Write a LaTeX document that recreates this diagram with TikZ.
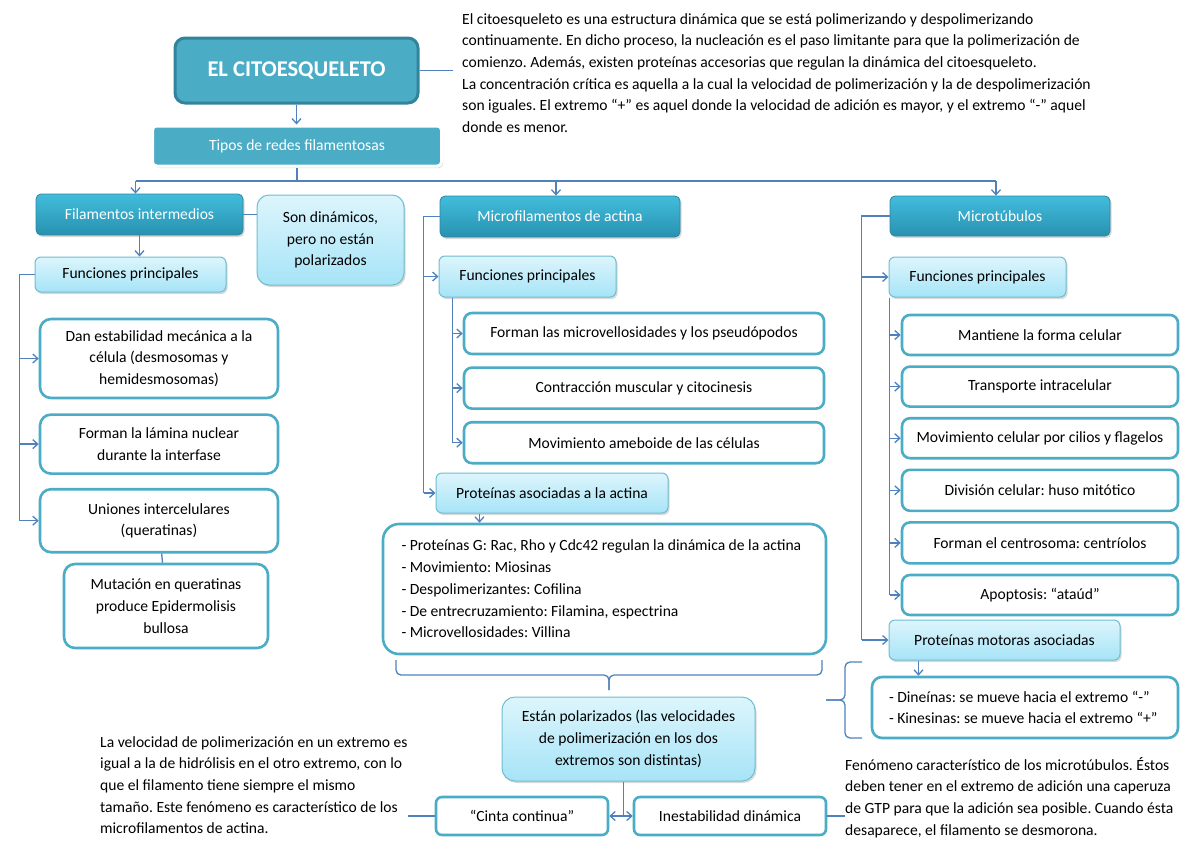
\documentclass[tikz,border=0pt]{standalone}
\usepackage{fontspec}
\setmainfont{Carlito}
\frenchspacing
\usetikzlibrary{positioning, arrows.meta, shadows}
\definecolor{azul}{HTML}{4F81BD}
\definecolor{turq}{HTML}{4BACC6}
\definecolor{turqosc}{HTML}{31849B}
\definecolor{oscarriba}{HTML}{42BCDC}
\definecolor{oscabajo}{HTML}{2892B0}
\definecolor{celeste}{HTML}{DDF5FC}
\definecolor{celeste2}{HTML}{A6E4F7}

\begin{document}
\begin{tikzpicture}[x=1pt, y=-1pt, >={Straight Barb[length=5pt,width=9pt]},
    every node/.style={font=\fontsize{15.6}{21.7}\selectfont, inner sep=0pt, align=center},
    sombra/.style={drop shadow={opacity=0.3, shadow xshift=1.5pt, shadow yshift=-2pt}},
    titulo/.style={rounded corners=10pt, fill=turq, draw=turqosc, line width=3pt, text=white,
      font=\bfseries\fontsize{22.5}{26}\selectfont},
    oscuro/.style={sombra, rounded corners=5pt, top color=oscarriba, bottom color=oscabajo,
      draw=turqosc, line width=0.8pt, text=white},
    claro/.style={sombra, rounded corners=6pt, top color=celeste, bottom color=celeste2,
      draw=turq!80, line width=1pt},
    caja/.style={rounded corners=8pt, fill=white, draw=turq, line width=2.6pt},
    lista/.style={caja, align=flush left},
    linea/.style={draw=azul, line width=1.3pt},
    flecha/.style={linea, ->},
    llave/.style={linea, rounded corners=5pt}]
  \useasboundingbox (0,0) rectangle (1200,849);

  % cabecera
  \node[titulo, minimum width=243pt, minimum height=65pt] (citoesq) at (296.5,70.5) {EL CITOESQUELETO};
  \node[sombra, rounded corners=4pt, fill=turq, draw=white, line width=3pt, text=white,
    minimum width=289pt, minimum height=40pt] (tipos) at (297,146) {Tipos de redes filamentosas};
  \node[anchor=north west, align=left] (nota) at (462,13) {El citoesqueleto es una estructura dinámica que se está polimerizando y despolimerizando\\
    continuamente. En dicho proceso, la nucleación es el paso limitante para que la polimerización de\\
    comienzo. Además, existen proteínas accesorias que regulan la dinámica del citoesqueleto.\\
    La concentración crítica es aquella a la cual la velocidad de polimerización y la de despolimerización\\
    son iguales. El extremo “+” es aquel donde la velocidad de adición es mayor, y el extremo “-” aquel\\
    donde es menor.};
  \draw[linea] (citoesq.east) -- ([xshift=-9pt]nota.west |- citoesq.east);
  \draw[flecha] (citoesq.south) -- (citoesq.south |- tipos.north);

  % tres tipos
  \node[oscuro, minimum width=207pt, minimum height=41pt] (fi) at (139.5,214.5) {Filamentos intermedios};
  \node[oscuro, minimum width=240pt, minimum height=41pt] (mf) at (560,216.5) {Microfilamentos de actina};
  \node[oscuro, minimum width=220pt, minimum height=40pt] (mt) at (1000,216) {Microtúbulos};
  \draw[linea] (tipos.south) -- (tipos.south |- 0,181) coordinate (bus);
  \draw[linea] ([xshift=-4pt]fi.north |- bus) -- ([xshift=-4pt]mt.north |- bus);
  \foreach \r in {fi,mf,mt}
    \draw[flecha] ([xshift=-4pt]\r.north |- bus) -- ([xshift=-4pt]\r.north);

  % filamentos intermedios
  \node[claro, rounded corners=12pt, minimum width=147pt, minimum height=90pt] (fisin) at (330.5,240)
    {Son dinámicos,\\pero no están\\polarizados};
  \node[claro, minimum width=191pt, minimum height=35pt] (fifun) at (130.5,274.5) {Funciones principales};
  \node[caja, rounded corners=11pt, minimum width=238pt, minimum height=79pt] (fi1) at (159,358.5)
    {Dan estabilidad mecánica a la\\célula (desmosomas y\\hemidesmosomas)};
  \node[caja, rounded corners=11pt, minimum width=238pt, minimum height=59pt, below=14pt of fi1] (fi2)
    {Forman la lámina nuclear\\durante la interfase};
  \node[caja, rounded corners=11pt, minimum width=238pt, minimum height=63pt, below=13pt of fi2] (fi3)
    {Uniones intercelulares\\(queratinas)};
  \node[caja, rounded corners=11pt, minimum width=204pt, minimum height=84pt] (fi4) at (166,606)
    {Mutación en queratinas\\produce Epidermolisis\\bullosa};
  \draw[linea] (fi.east) -- (fi.east -| fisin.west);
  \draw[flecha] (fi.south) -- (fi.south |- fifun.north);
  \draw[linea] (fifun.west) -- ++(-15,0) coordinate (fibarra) -- (fibarra |- fi3.west);
  \foreach \b in {fi1,fi2,fi3}
    \draw[flecha] (fibarra |- \b.west) -- (\b.west);
  \draw[linea] (fi3) -- (fi4);

  % microfilamentos de actina
  \node[claro, minimum width=177pt, minimum height=41pt] (mffun) at (527.5,276.5) {Funciones principales};
  \node[caja, minimum width=360pt, minimum height=41pt] (mf1) at (644,333.5)
    {Forman las microvellosidades y los pseudópodos};
  \node[caja, minimum width=360pt, minimum height=41pt, below=11pt of mf1] (mf2) {Contracción muscular y citocinesis};
  \node[caja, minimum width=360pt, minimum height=41pt, below=11pt of mf2] (mf3) {Movimiento ameboide de las células};
  \node[claro, minimum width=232pt, minimum height=40pt] (mfprot) at (552,493) {Proteínas asociadas a la actina};
  \node[lista, rounded corners=16pt, minimum width=443pt, minimum height=130pt, text width=406pt]
    (mfbig) at (604.5,589)
    {- Proteínas G: Rac, Rho y Cdc42 regulan la dinámica de la actina\\
     - Movimiento: Miosinas\\
     - Despolimerizantes: Cofilina\\
     - De entrecruzamiento: Filamina, espectrina\\
     - Microvellosidades: Villina};
  \draw[linea] (mf.west) -- ++(-16,0) coordinate (mfbarra) -- (mfbarra |- mfprot.west);
  \foreach \b in {mffun,mfprot}
    \draw[flecha] (mfbarra |- \b.west) -- (\b.west);
  \draw[linea] ([xshift=14pt]mffun.south west) coordinate (mfsub) -- (mfsub |- mf3.west);
  \foreach \b in {mf1,mf2,mf3}
    \draw[flecha] (mfsub |- \b.west) -- (\b.west);
  \path ([xshift=44pt]mfprot.south west) coordinate (mfp);
  \draw[flecha] (mfp) -- (mfp |- mfbig.north);
  % llave bajo las proteinas de la actina
  \draw[llave] (396,660) -- (396,675) -- (609,675) -- (609,690);
  \draw[llave] (609,690) -- (609,675) -- (822,675) -- (822,660);

  % polaridad
  \node[claro, rounded corners=13pt, minimum width=253pt, minimum height=84pt] (pol) at (628.5,739)
    {Están polarizados (las velocidades\\de polimerización en los dos\\extremos son distintas)};
  \node[caja, rounded corners=6pt, minimum width=172pt, minimum height=38pt] (cinta) at (522,816) {“Cinta continua”};
  \node[caja, rounded corners=6pt, minimum width=192pt, minimum height=38pt] (inest) at (730,816) {Inestabilidad dinámica};
  \node[anchor=north west, align=left] (cintatxt) at (100,736)
    {La velocidad de polimerización en un extremo es\\
     igual a la de hidrólisis en el otro extremo, con lo\\
     que el filamento tiene siempre el mismo\\
     tamaño. Este fenómeno es característico de los\\
     microfilamentos de actina.};
  \node[anchor=north west, align=left] (inesttxt) at (845,757)
    {Fenómeno característico de los microtúbulos. Éstos\\
     deben tener en el extremo de adición una caperuza\\
     de GTP para que la adición sea posible. Cuando ésta\\
     desaparece, el filamento se desmorona.};
  \draw[linea] ([xshift=-5pt]pol.south) -- ([xshift=-5pt]pol.south |- cinta.east);
  \draw[linea, <->] (cinta.east) -- (inest.west);
  \draw[linea] (cinta.west) -- (cinta.west -| cintatxt.east);
  \draw[linea] (inest.east) -- (inest.east -| inesttxt.west);

  % microtubulos
  \node[claro, minimum width=177pt, minimum height=40pt] (mtfun) at (977.5,277) {Funciones principales};
  \node[caja, minimum width=276pt, minimum height=40pt] (mt1) at (1040,335) {Mantiene la forma celular};
  \node[caja, minimum width=276pt, minimum height=40pt, below=9pt of mt1] (mt2) {Transporte intracelular};
  \node[caja, minimum width=276pt, minimum height=40pt, below=9pt of mt2] (mt3) {Movimiento celular por cilios y flagelos};
  \node[caja, minimum width=276pt, minimum height=41pt, below=9pt of mt3] (mt4) {División celular: huso mitótico};
  \node[caja, minimum width=276pt, minimum height=41pt, below=9pt of mt4] (mt5) {Forman el centrosoma: centríolos};
  \node[caja, minimum width=276pt, minimum height=40pt, below=9pt of mt5] (mt6) {Apoptosis: “ataúd”};
  \node[claro, minimum width=231pt, minimum height=40pt] (mtprot) at (1004.5,640) {Proteínas motoras asociadas};
  \node[lista, rounded corners=10pt, minimum width=306pt, minimum height=61pt, text width=272pt]
    (mtdin) at (1025,707.5)
    {- Dineínas: se mueve hacia el extremo “-”\\
     - Kinesinas: se mueve hacia el extremo “+”};
  \draw[linea] (mt.west) -- ++(-28,0) coordinate (mtbarra) -- (mtbarra |- mtprot.west);
  \foreach \b in {mtfun,mtprot}
    \draw[flecha] (mtbarra |- \b.west) -- (\b.west);
  \draw[linea] ([xshift=1pt]mtfun.south west) coordinate (mtsub) -- (mtsub |- mt6.west);
  \foreach \b in {mt1,mt2,mt3,mt4,mt5,mt6}
    \draw[flecha] (mtsub |- \b.west) -- (\b.west);
  \path ([xshift=30pt]mtprot.south west) coordinate (mtp);
  \draw[flecha] (mtp) -- (mtp |- mtdin.north);
  % llave de las proteinas motoras
  \draw[llave] (862,662) -- (845,662) -- (845,700) -- (826,700);
  \draw[llave] (826,700) -- (845,700) -- (845,738) -- (862,738);
\end{tikzpicture}
\end{document}
